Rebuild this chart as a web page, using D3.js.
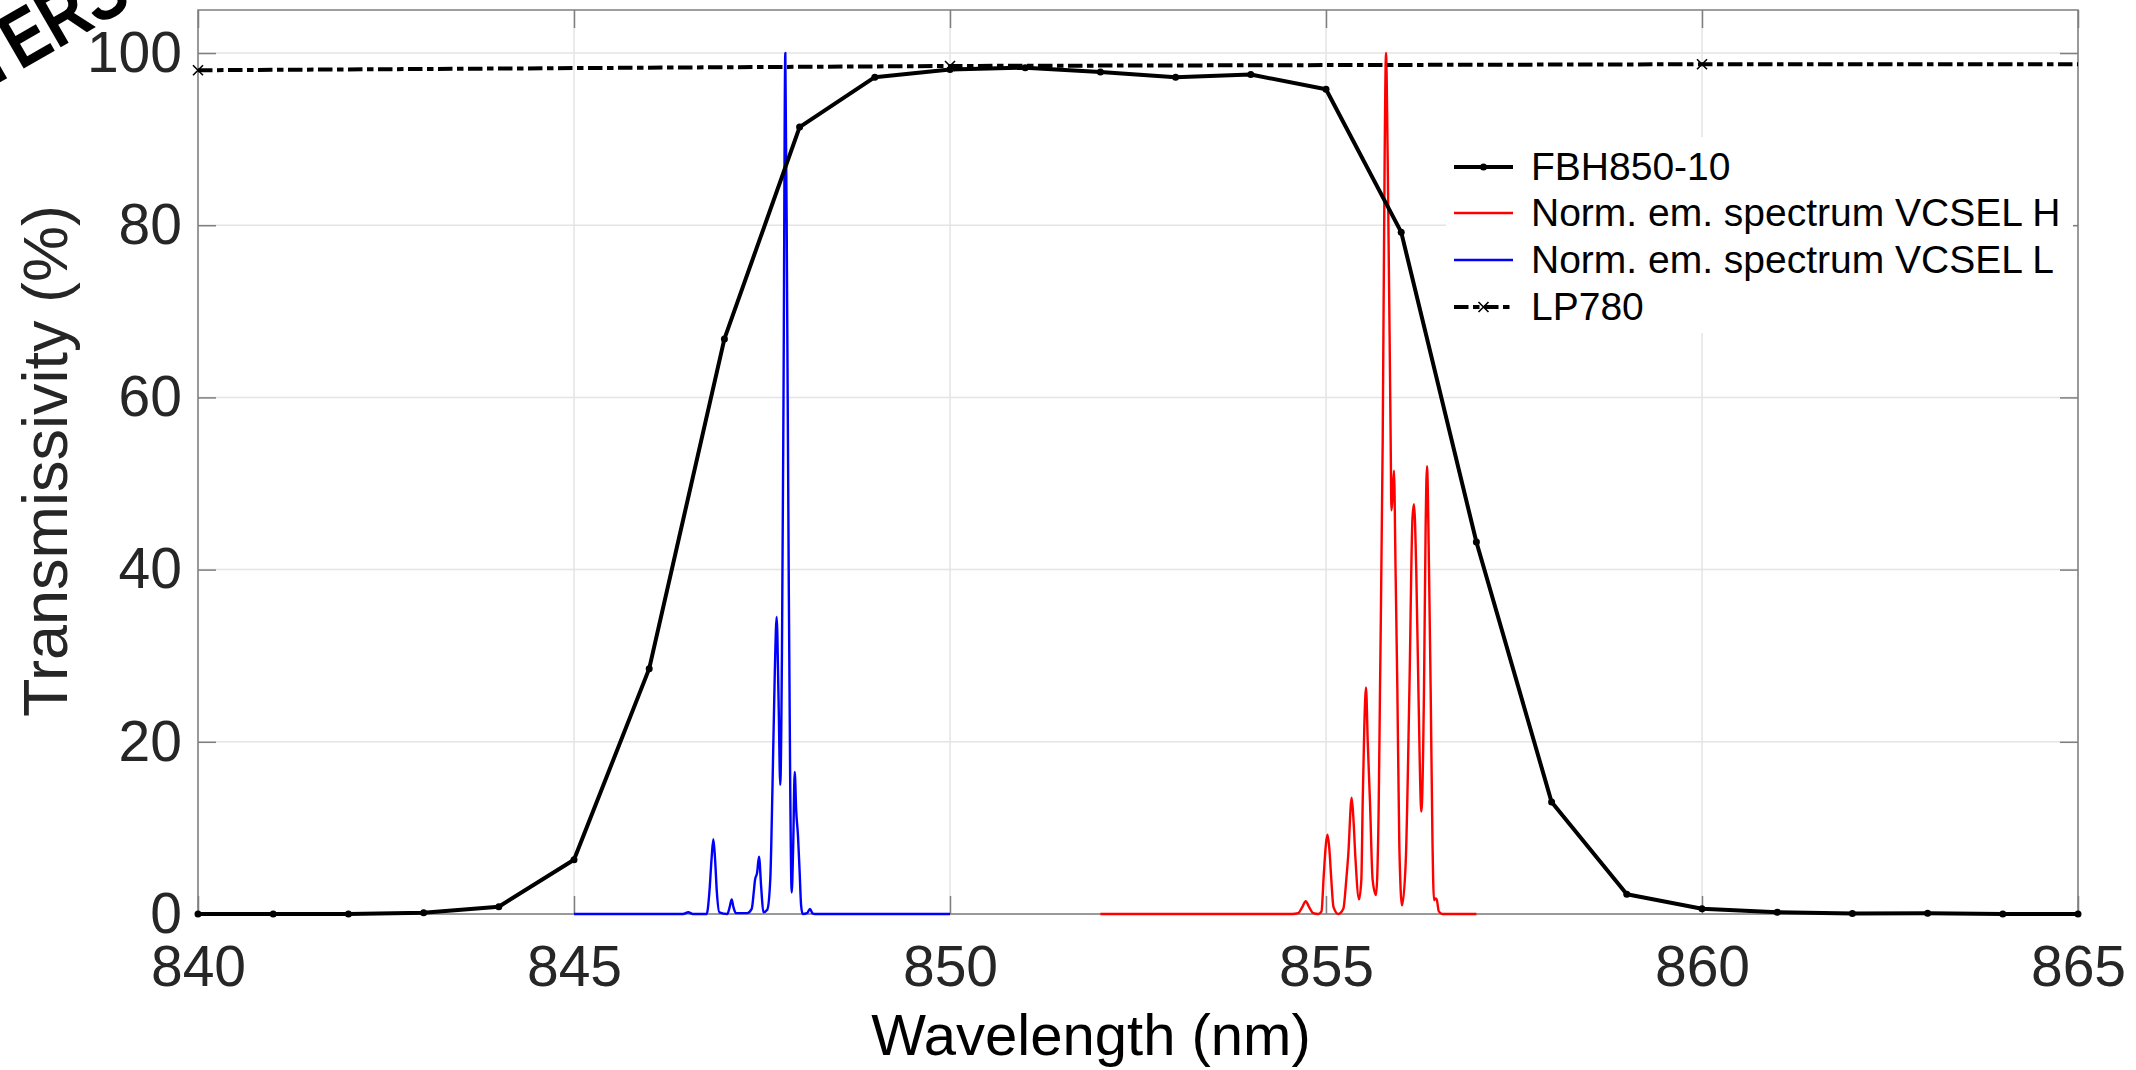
<!DOCTYPE html>
<html>
<head>
<meta charset="utf-8">
<title>Transmissivity</title>
<script src="https://cdn.jsdelivr.net/npm/d3@7"></script>
<style>
  body { margin: 0; background: #fff; }
  svg text { font-family: "Liberation Sans", Arial, Helvetica, sans-serif; }
</style>
</head>
<body>
<svg id="chart" width="2136" height="1070"></svg>
<script>

// ---- data ----
var xTicks = [840, 845, 850, 855, 860, 865];
var yTicks = [0, 20, 40, 60, 80, 100];

// FBH850-10 filter, 1 nm steps
var fbhWavelength = [840, 841, 842, 843, 844, 845, 846, 847, 848, 849, 850, 851, 852,
                     853, 854, 855, 856, 857, 858, 859, 860, 861, 862, 863, 864, 865];
var fbhValues = [0, 0, 0, 0.15, 0.85, 6.3, 28.5, 66.8, 91.4, 97.2, 98.1, 98.3, 97.8,
                 97.2, 97.5, 95.8, 79.2, 43.2, 13, 2.3, 0.6, 0.2, 0.05, 0.1, 0, 0];

// LP780 long pass, 10 nm steps
var lpWavelength = [840, 850, 860, 870];
var lpValues = [98.0, 98.5, 98.7, 98.7];

// VCSEL H emission (normalised)
var vcselHWavelength = [852.0, 854.55, 854.63, 854.69, 854.73, 854.77, 854.83, 854.90,
  854.94, 854.97, 855.0, 855.02, 855.045, 855.067, 855.10, 855.164, 855.23, 855.27,
  855.297, 855.341, 855.365, 855.39, 855.439, 855.47, 855.488, 855.51, 855.532, 855.555,
  855.585, 855.62, 855.665, 855.70, 855.718, 855.754, 855.78, 855.798, 855.82, 855.86,
  855.87, 855.885, 855.904, 855.925, 855.949, 855.975, 856.011, 856.06, 856.109, 856.15,
  856.17, 856.20, 856.229, 856.268, 856.303, 856.325, 856.343, 856.37, 856.392, 856.415,
  856.436, 856.455, 856.472, 856.50, 856.547, 857.0];
var vcselHValues = [0, 0, 0.1, 0.9, 1.5, 0.9, 0.1, 0,
  0.3, 4.5, 8.2, 9.2, 7.5, 4.5, 0.8, 0, 0.6, 4,
  7, 13.5, 11, 6.7, 1.7, 4, 13, 22, 26.3, 20,
  13, 4, 2.2, 12, 26, 55, 88, 100, 88, 55,
  46.9, 48.5, 51.5, 40, 26, 8, 1.0, 6, 26, 46,
  47.6, 40, 26, 11.9, 26, 45, 52.0, 40, 26, 9,
  1.6, 1.8, 1.7, 0.3, 0, 0];

// VCSEL L emission (normalised)
var vcselLWavelength = [845.0, 846.45, 846.52, 846.58, 846.764, 846.80, 846.83, 846.853,
  846.875, 846.90, 846.933, 847.04, 847.07, 847.097, 847.12, 847.154, 847.30, 847.363,
  847.39, 847.407, 847.435, 847.46, 847.49, 847.518, 847.57, 847.61, 847.64, 847.67,
  847.695, 847.72, 847.743, 847.765, 847.786, 847.81, 847.835, 847.855, 847.875, 847.895,
  847.915, 847.935, 847.955, 847.979, 848.0, 848.02, 848.041, 848.10, 848.138, 848.17,
  848.205, 850.0];
var vcselLValues = [0, 0, 0.2, 0, 0, 2.5, 6.5, 8.7,
  6.5, 2.5, 0.2, 0, 0.8, 1.7, 0.8, 0.1, 0.1, 0.6,
  2.5, 3.95, 4.8, 6.65, 3, 0.2, 0.5, 4, 15, 28,
  34.5, 25, 15, 30, 60, 100, 70, 40, 15, 2.5,
  8, 16.5, 12, 9, 5, 1, 0, 0.1, 0.6, 0.1,
  0, 0];

var legendLabels = ['FBH850-10', 'Norm. em. spectrum VCSEL H', 'Norm. em. spectrum VCSEL L', 'LP780'];

// ---- layout ----
var plotLeft = 198, plotRight = 2078, plotTop = 10, plotBottom = 914;
var tickColor = '#7f7f7f', gridColor = '#e4e4e4', labelColor = '#262626';

var svg = d3.select('#chart');
svg.append('rect').attr('width', 2136).attr('height', 1070).attr('fill', '#fff');

var x = d3.scaleLinear().domain([840, 865]).range([plotLeft, plotRight]);
var y = d3.scaleLinear().domain([0, 105]).range([plotBottom, plotTop]);

// grid
svg.append('g')
  .selectAll('line')
  .data(xTicks)
  .enter().append('line')
    .attr('x1', function(d) { return x(d); })
    .attr('x2', function(d) { return x(d); })
    .attr('y1', plotTop).attr('y2', plotBottom)
    .attr('stroke', gridColor).attr('stroke-width', 1.5);

svg.append('g')
  .selectAll('line')
  .data(yTicks)
  .enter().append('line')
    .attr('y1', function(d) { return y(d); })
    .attr('y2', function(d) { return y(d); })
    .attr('x1', plotLeft).attr('x2', plotRight)
    .attr('stroke', gridColor).attr('stroke-width', 1.5);

// axes with inward ticks
function styleAxis(g, showText) {
  g.select('.domain').remove();
  g.selectAll('.tick line').attr('stroke', tickColor).attr('stroke-width', 1.5);
  g.selectAll('.tick text')
    .attr('fill', labelColor)
    .style('font-size', '57px')
    .style('font-family', '"Liberation Sans", Arial, sans-serif');
  if (!showText) g.selectAll('.tick text').remove();
}

svg.append('g')
  .attr('transform', 'translate(0,' + plotBottom + ')')
  .call(d3.axisBottom(x).tickValues(xTicks).tickSize(-18).tickPadding(32).tickFormat(d3.format('d')))
  .call(styleAxis, true);

svg.append('g')
  .attr('transform', 'translate(0,' + plotTop + ')')
  .call(d3.axisTop(x).tickValues(xTicks).tickSize(-18))
  .call(styleAxis, false);

svg.append('g')
  .attr('transform', 'translate(' + plotLeft + ',0)')
  .call(d3.axisLeft(y).tickValues(yTicks).tickSize(-18).tickPadding(16).tickFormat(d3.format('d')))
  .call(styleAxis, true);

svg.append('g')
  .attr('transform', 'translate(' + plotRight + ',0)')
  .call(d3.axisRight(y).tickValues(yTicks).tickSize(-18))
  .call(styleAxis, false);

svg.append('rect')
  .attr('x', plotLeft).attr('y', plotTop)
  .attr('width', plotRight - plotLeft).attr('height', plotBottom - plotTop)
  .attr('fill', 'none').attr('stroke', tickColor).attr('stroke-width', 1.5);

// axis labels
svg.append('text')
  .attr('x', 1091).attr('y', 1055)
  .attr('text-anchor', 'middle')
  .attr('fill', 'black')
  .style('font-size', '58px')
  .text('Wavelength (nm)');

svg.append('text')
  .attr('transform', 'translate(67,461) rotate(-90)')
  .attr('text-anchor', 'middle')
  .attr('fill', labelColor)
  .style('font-size', '63px')
  .text('Transmissivity (%)');

// data
svg.append('clipPath').attr('id', 'plotclip')
  .append('rect').attr('x', plotLeft).attr('y', 0).attr('width', plotRight - plotLeft).attr('height', 1070);

var plot = svg.append('g').attr('clip-path', 'url(#plotclip)');

function zip(xs, ys) {
  return xs.map(function(d, i) { return [d, ys[i]]; });
}

var straight = d3.line()
  .x(function(d) { return x(d[0]); })
  .y(function(d) { return y(d[1]); });

var smooth = d3.line()
  .x(function(d) { return x(d[0]); })
  .y(function(d) { return y(d[1]); })
  .curve(d3.curveMonotoneX);

plot.append('path')
  .datum(zip(vcselLWavelength, vcselLValues))
  .attr('d', smooth)
  .attr('fill', 'none').attr('stroke', '#0000ff').attr('stroke-width', 2.4)
  .attr('stroke-linejoin', 'round');

plot.append('path')
  .datum(zip(vcselHWavelength, vcselHValues))
  .attr('d', smooth)
  .attr('fill', 'none').attr('stroke', '#ff0000').attr('stroke-width', 2.4)
  .attr('stroke-linejoin', 'round');

plot.append('path')
  .datum(zip(fbhWavelength, fbhValues))
  .attr('d', straight)
  .attr('fill', 'none').attr('stroke', '#000').attr('stroke-width', 4)
  .attr('stroke-linejoin', 'round');

plot.append('path')
  .datum(zip(lpWavelength, lpValues))
  .attr('d', straight)
  .attr('fill', 'none').attr('stroke', '#000').attr('stroke-width', 4)
  .attr('stroke-dasharray', '14.5,4.5,6.5,4.5');

// markers
svg.append('g')
  .selectAll('circle')
  .data(zip(fbhWavelength, fbhValues))
  .enter().append('circle')
    .attr('cx', function(d) { return x(d[0]); })
    .attr('cy', function(d) { return y(d[1]); })
    .attr('r', 3.5)
    .attr('fill', '#000');

function crossPath(cx, cy, s) {
  return 'M' + (cx - s) + ',' + (cy - s) + 'L' + (cx + s) + ',' + (cy + s) +
         'M' + (cx - s) + ',' + (cy + s) + 'L' + (cx + s) + ',' + (cy - s);
}

svg.append('g')
  .selectAll('path')
  .data(zip(lpWavelength, lpValues).filter(function(d) { return d[0] <= 865; }))
  .enter().append('path')
    .attr('d', function(d) { return crossPath(x(d[0]), y(d[1]), 5); })
    .attr('stroke', '#000').attr('stroke-width', 1.6).attr('fill', 'none');

// legend
var legend = svg.append('g');
legend.append('rect')
  .attr('x', 1446).attr('y', 137).attr('width', 627).attr('height', 196)
  .attr('fill', '#fff');

var legendRows = [167, 213, 260, 307];
var legendStyles = [
  { color: '#000', width: 4, dash: null },
  { color: '#ff0000', width: 2.4, dash: null },
  { color: '#0000ff', width: 2.4, dash: null },
  { color: '#000', width: 4, dash: '14.5,4.5,6.5,4.5' }
];

legendLabels.forEach(function(label, i) {
  var yy = legendRows[i], st = legendStyles[i];
  legend.append('line')
    .attr('x1', 1454).attr('x2', 1513).attr('y1', yy).attr('y2', yy)
    .attr('stroke', st.color).attr('stroke-width', st.width)
    .attr('stroke-dasharray', st.dash);
  legend.append('text')
    .attr('x', 1531).attr('y', yy + 13)
    .attr('fill', '#000')
    .style('font-size', '39px')
    .text(label);
});
legend.append('circle').attr('cx', 1483.5).attr('cy', legendRows[0]).attr('r', 3.5).attr('fill', '#000');
legend.append('path').attr('d', crossPath(1483.5, legendRows[3], 5))
  .attr('stroke', '#000').attr('stroke-width', 1.6);

// stray slide title cut at the top-left corner
svg.append('text')
  .attr('transform', 'translate(134,5) rotate(-30) scale(0.8,1)')
  .attr('text-anchor', 'end')
  .attr('fill', '#000')
  .style('font-size', '80px')
  .style('font-weight', 'bold')
  .text('FILTERS');

</script>
</body>
</html>
